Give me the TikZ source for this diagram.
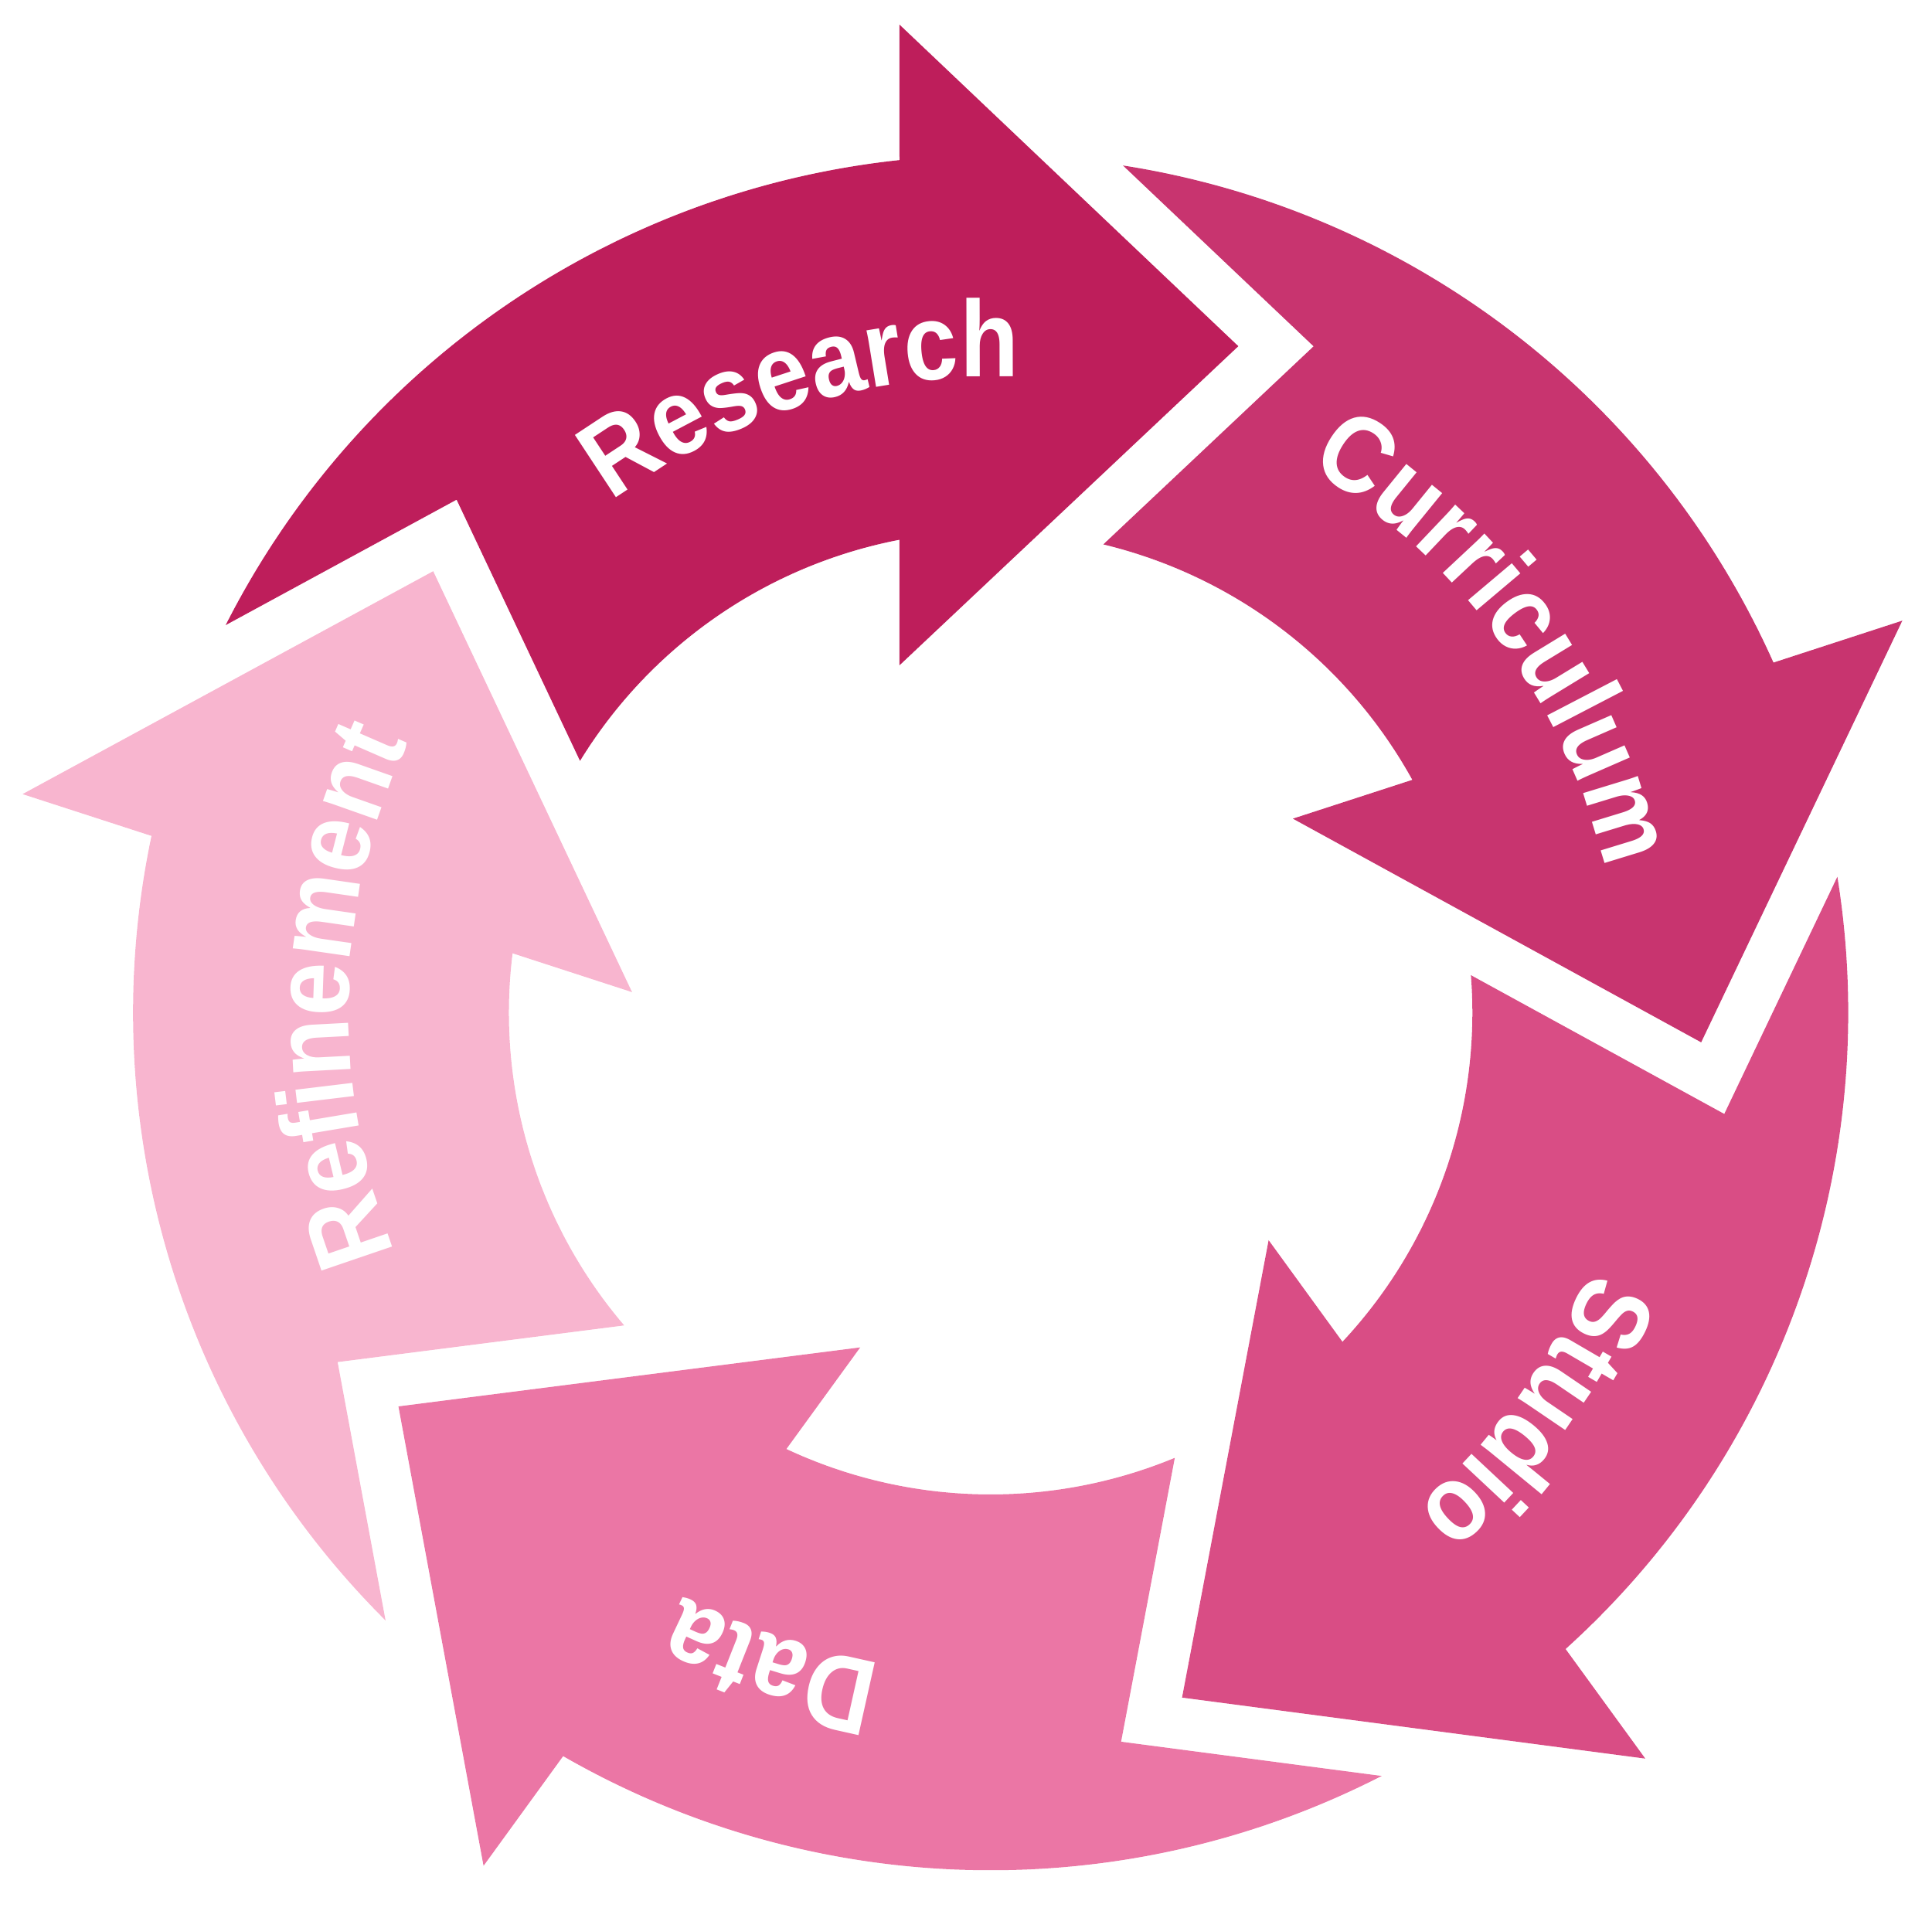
\documentclass[tikz,border=0pt]{standalone}
\usepackage{fontspec}
\newfontfamily\lblfamily[FakeStretch=0.89]{Liberation Sans}
\newcommand{\lbl}{\fontsize{44}{44}\selectfont\lblfamily\bfseries}
\usetikzlibrary{decorations.text}
\definecolor{cresearch}{HTML}{BE1E5B}
\definecolor{ccurric}{HTML}{C8346F}
\definecolor{cstudio}{HTML}{D94D85}
\definecolor{cdata}{HTML}{EB76A5}
\definecolor{crefine}{HTML}{F8B5CF}
\tikzset{
  lbl/.style={decorate, decoration={text along path, text align=center, text color=white, text={|\lbl|#1}}}
}
\begin{document}
\begin{tikzpicture}[x=0.5pt,y=0.5pt]
\useasboundingbox (-804,-729) rectangle (764,822);
\foreach \k/\col in {0/cresearch,1/ccurric,2/cstudio,3/cdata,4/crefine}{
  \begin{scope}[rotate=-72*\k]
    \fill[\col] (153.12:696) arc[start angle=153.12,end angle=96.10,radius=696]
      -- (-74,802) -- (201,541) -- (-74,282) -- (100.91:391)
      arc[start angle=100.91,end angle=148.47,radius=391]
      -- (-433.41,416.45) -- cycle;
  \end{scope}
}
\path[lbl=Research] (152:516) arc[start angle=152,end angle=62,radius=516];
\path[lbl=Curriculum] (86.5:512) arc[start angle=86.5,end angle=-13.5,radius=512];
\path[lbl=Studio] (8.7:530) arc[start angle=8.7,end angle=-81.3,radius=530];
\path[lbl=Data] (-63.6:535) arc[start angle=-63.6,end angle=-153.6,radius=535];
\path[lbl=Refinement] (228.5:521) arc[start angle=228.5,end angle=128.5,radius=521];
\end{tikzpicture}
\end{document}
